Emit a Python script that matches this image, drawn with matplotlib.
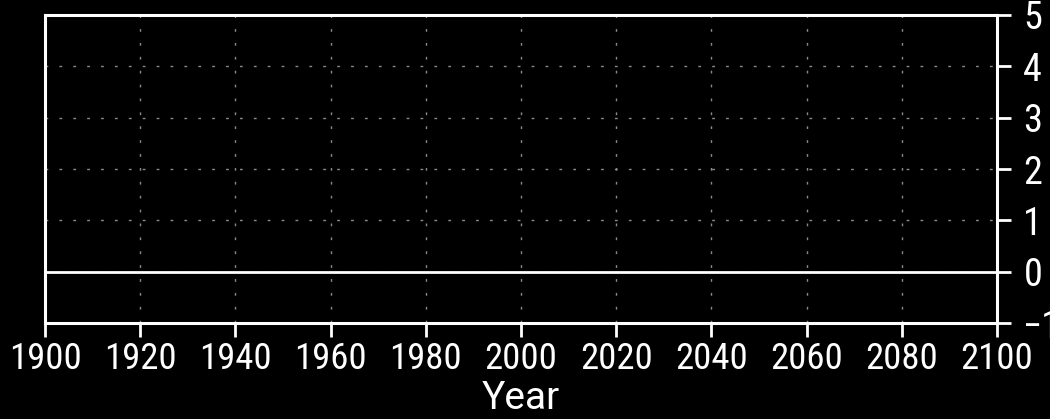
import matplotlib
matplotlib.use("Agg")
import matplotlib.pyplot as plt
from matplotlib import font_manager

x_ticks = [1900, 1920, 1940, 1960, 1980, 2000, 2020, 2040, 2060, 2080, 2100]
y_ticks = [-1, 0, 1, 2, 3, 4, 5]
x_range = [1900, 2100]
y_range = [-1, 5]
zero_line = [0, 0]
x_label = "Year"

names = sorted({f.name for f in font_manager.fontManager.ttflist})

fam = ['Roboto', 'DejaVu Sans']
size = 23
if 'Roboto Condensed' in names:
    fam = ['Roboto Condensed', 'DejaVu Sans']; size = 26.5

plt.rcParams['font.family'] = fam
fig = plt.figure(figsize=(10.5, 4.19), dpi=100, facecolor='black')
ax = fig.add_axes([45/1050, 1-323/419, (997-45)/1050, (323-15)/419], facecolor='black')

ax.set_xlim(*x_range)
ax.set_ylim(*y_range)
ax.set_xticks(x_ticks)
ax.set_yticks(y_ticks)

ax.plot(x_range, zero_line, color='white', lw=2, zorder=3)

for s in ax.spines.values():
    s.set_color('white')
    s.set_linewidth(2.2)

ax.grid(True, color='#8a8a8a', linestyle=(0, (2, 8)), linewidth=1.0)
ax.yaxis.tick_right()
ax.yaxis.set_label_position('right')
ax.tick_params(axis='x', colors='white', direction='out', length=10, width=2,
               labelsize=size, pad=3)
ax.tick_params(axis='y', colors='white', direction='out', length=10, width=2,
               labelsize=size + 1, pad=9)
ax.set_xlabel(x_label, color='white', fontsize=28, labelpad=2,
              family=['Roboto', 'DejaVu Sans'])

fig.savefig('out.png', dpi=100, facecolor='black')
